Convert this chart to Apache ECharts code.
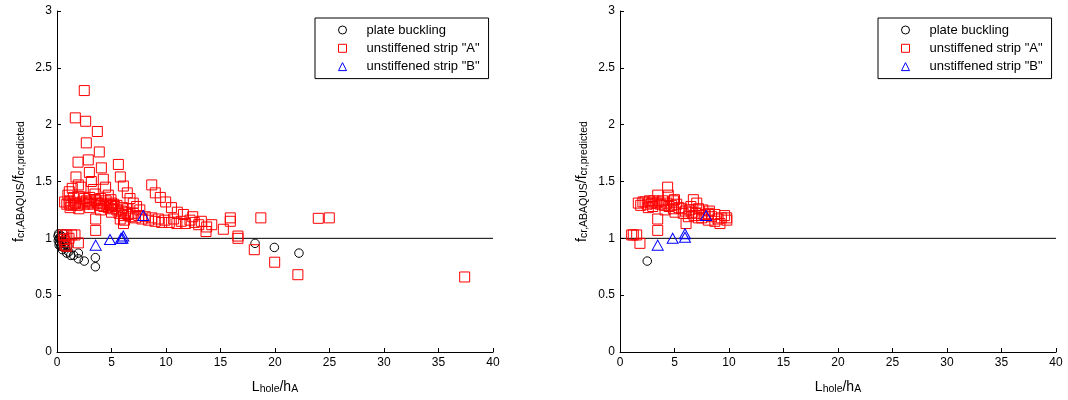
<!DOCTYPE html>
<html>
<head>
<meta charset="utf-8">
<script src="https://cdn.jsdelivr.net/npm/echarts@6/dist/echarts.min.js"></script>
<style>html,body{margin:0;padding:0;background:#fff;}#c{width:1068px;height:400px;}</style>
</head>
<body>
<div id="c"></div>
<script>
// ---- data ----
var xTicks = [0, 5, 10, 15, 20, 25, 30, 35, 40];
var yTicks = [0, 0.5, 1, 1.5, 2, 2.5, 3];
var seriesNames = ['plate buckling', 'unstiffened strip "A"', 'unstiffened strip "B"'];
var refLine = [[0, 1], [40, 1]];

var leftPlate = [[0.1,1.02],[0.15,1.04],[0.2,1.0],[0.12,0.98],[0.25,0.96],[0.3,1.01],[0.2,0.94],[0.35,0.93],[0.45,0.96],[0.5,0.9],[0.58,1.04],[0.6,0.92],[0.76,0.92],[0.4,1.02],[0.7,0.95],[1.0,0.93],[0.9,0.87],[1.07,0.88],[1.26,0.85],[1.53,0.85],[1.96,0.82],[1.96,0.87],[2.5,0.8],[3.52,0.83],[3.52,0.75],[18.17,0.956],[19.94,0.92],[22.2,0.87]];

var leftStripA = [[0.58,1.03],[0.9,1.03],[1.35,1.03],[1.65,1.03],[0.73,0.94],[0.64,0.99],[1.96,0.96],[0.7,0.97],[1.1,1.0],[0.89,0.93],
[3.55,1.17],[3.55,1.07],
[1.13,1.41],[1.4,1.44],[1.68,2.06],[1.93,1.67],[1.74,1.54],[1.96,1.47],[2.2,1.45],[1.19,1.33],
[2.5,2.3],[2.63,2.03],[2.69,1.84],[2.87,1.69],[2.97,1.58],[3.15,1.5],[3.33,1.43],[3.49,1.39],
[3.7,1.94],[3.88,1.76],[4.07,1.62],[4.25,1.52],[4.46,1.45],[4.71,1.38],[4.95,1.34],[5.2,1.3],
[5.63,1.65],[5.81,1.54],[6.09,1.46],[6.45,1.4],[6.7,1.35],[7.0,1.31],[7.3,1.28],[7.6,1.25],
[8.69,1.47],[9.02,1.4],[9.48,1.36],[9.97,1.32],[10.5,1.27],[11.04,1.23],[11.6,1.21],[12.45,1.19],[13.24,1.15],[13.73,1.1],[13.67,1.06],[14.2,1.12],[15.26,1.08],[15.9,1.18],[15.9,1.15],[16.6,1.02],[16.6,1.0],[18.7,1.18],[18.1,0.9],[19.97,0.79],[22.1,0.68],[23.97,1.176],[24.98,1.18],[37.4,0.66],
[0.7,1.32],[0.9,1.3],[1.1,1.31],[1.3,1.29],[1.5,1.3],[1.7,1.31],[1.9,1.29],[2.1,1.31],[2.3,1.32],[2.5,1.3],[2.7,1.33],[2.9,1.31],[3.1,1.32],[3.3,1.3],[3.5,1.33],[3.7,1.31],[3.9,1.29],[4.1,1.31],[4.3,1.28],[4.5,1.3],[4.7,1.27],[4.9,1.29],[5.1,1.26],[5.3,1.28],[5.5,1.25],[5.7,1.22],[5.9,1.24],[6.1,1.2],[6.3,1.23],[6.5,1.21],[6.8,1.19],[7.0,1.22],[7.2,1.18],[7.5,1.2],[7.8,1.17],[8.1,1.19],[8.4,1.16],[8.7,1.18],[9.0,1.15],[9.3,1.17],[9.6,1.14],[9.9,1.16],[10.3,1.14],[10.7,1.17],[11.0,1.13],[11.4,1.15],[11.8,1.13],[12.2,1.16],[12.6,1.14],[13.0,1.12],
[1.0,1.38],[1.5,1.36],[2.0,1.37],[2.5,1.35],[3.0,1.36],[3.5,1.34],[4.0,1.35],[4.5,1.33],[5.0,1.31],[5.5,1.29],[6.0,1.27],[6.5,1.26],
[1.2,1.27],[2.0,1.26],[3.0,1.27],[4.0,1.25],[5.0,1.23],[5.8,1.17],[6.1,1.13],[6.2,1.16]];

var leftStripB = [[3.55,0.94],[4.86,0.99],[5.87,1.0],[6.08,1.02],[6.0,1.0],[7.92,1.2]];

var rightPlate = [[2.5,0.8]];

var rightStripA = [[1.07,1.03],[1.22,1.03],[1.53,1.03],[1.83,0.956],[3.46,1.17],[3.46,1.07],[4.37,1.45],[4.43,1.38],[3.46,1.38],[6.73,1.34],[7.04,1.31],[6.06,1.13],
[1.68,1.31],[1.9,1.29],[2.1,1.32],[2.3,1.32],[2.5,1.3],[2.7,1.33],[2.9,1.31],[3.1,1.33],[3.3,1.31],[3.5,1.32],[3.7,1.3],[3.9,1.33],[4.1,1.29],[4.13,1.25],[4.3,1.31],[4.5,1.28],[4.74,1.29],[4.9,1.26],[5.05,1.23],[5.2,1.3],[5.4,1.27],[5.66,1.26],[5.8,1.22],[6.0,1.24],[6.27,1.19],[6.4,1.25],[6.6,1.23],[6.8,1.2],[7.0,1.22],[7.2,1.18],[7.5,1.2],[7.5,1.18],[7.8,1.21],[8.1,1.16],[8.1,1.22],[8.4,1.19],[8.7,1.15],[8.7,1.21],[9.0,1.17],[9.17,1.13],[9.3,1.18],[9.6,1.2],[9.79,1.18],[9.8,1.16],[5.0,1.34],[4.9,1.33],[3.0,1.28],[2.6,1.27],[6.5,1.28],[7.2,1.26],[7.6,1.25],[8.2,1.24]];

var rightStripB = [[3.46,0.94],[4.83,1.0],[5.96,1.01],[5.96,1.04],[7.9,1.2]];

// ---- chart ----
var FONT = 'Liberation Sans, Arial, Helvetica, sans-serif';
var chart = echarts.init(document.getElementById('c'), null, {renderer: 'canvas'});

var styles = [
  {symbol: 'circle', size: 8.5, color: '#000000'},
  {symbol: 'rect', size: 10, color: '#ff0000'},
  {symbol: 'triangle', size: [11, 10], color: '#0000ff'}
];

var nameRich = {
  n: {fontSize: 14, fontFamily: FONT, color: '#000', lineHeight: 15, verticalAlign: 'top'},
  s: {fontSize: 10.5, fontFamily: FONT, color: '#000', lineHeight: 10, padding: [10, 0, 0, 0], verticalAlign: 'bottom'}
};

function xAx(gi) {
  return {
    gridIndex: gi, type: 'value', min: 0, max: 40, interval: 5,
    name: '{n|L}{s|hole}{n|/h}{s|A}', nameLocation: 'middle', nameGap: 16,
    nameTextStyle: {rich: nameRich},
    axisLine: {show: true, onZero: false, lineStyle: {color: '#000', width: 1}},
    axisTick: {show: true, inside: true, length: 4, lineStyle: {color: '#000'}},
    axisLabel: {color: '#000', fontSize: 12, fontFamily: FONT, margin: 5, customValues: xTicks},
    splitLine: {show: false}
  };
}
function yAx(gi) {
  return {
    gridIndex: gi, type: 'value', min: 0, max: 3, interval: 0.5,
    name: '{n|f}{s|cr,ABAQUS}{n|/f}{s|cr,predicted}', nameLocation: 'middle', nameGap: 30, nameRotate: 90,
    nameTextStyle: {rich: nameRich},
    axisLine: {show: true, onZero: false, lineStyle: {color: '#000', width: 1}},
    axisTick: {show: true, inside: true, length: 4, lineStyle: {color: '#000'}},
    axisLabel: {color: '#000', fontSize: 12, fontFamily: FONT, margin: 5},
    splitLine: {show: false}
  };
}

function scatter(name, data, gi, st) {
  return {
    type: 'scatter', name: name, xAxisIndex: gi, yAxisIndex: gi, data: data,
    symbol: st.symbol, symbolSize: st.size, silent: true, animation: false,
    itemStyle: {color: 'transparent', borderColor: st.color, borderWidth: 1, opacity: 1}
  };
}
function legend(left, gi) {
  return {
    orient: 'vertical', left: left, top: 18,
    padding: [5, 9, 5, 23], itemGap: 4.3, itemWidth: 8, itemHeight: 8,
    borderColor: '#000', borderWidth: 1, backgroundColor: '#fff',
    textStyle: {fontSize: 13, fontFamily: FONT, color: '#000', lineHeight: 14, padding: [0, 0, 0, 15]},
    selectedMode: false,
    data: seriesNames.map(function (n, i) {
      return {name: n, icon: styles[i].symbol,
        itemStyle: {color: 'transparent', borderColor: styles[i].color, borderWidth: 1}};
    })
  };
}

var option = {
  backgroundColor: '#fff',
  animation: false,
  grid: [
    {left: 57, right: 575, top: 11, bottom: 48, containLabel: false},
    {left: 620, right: 12, top: 11, bottom: 48, containLabel: false}
  ],
  xAxis: [xAx(0), xAx(1)],
  yAxis: [yAx(0), yAx(1)],
  legend: [legend(315, 0), legend(878, 1)],
  series: [
    {type: 'line', xAxisIndex: 0, yAxisIndex: 0, data: refLine, symbol: 'none', silent: true, lineStyle: {color: '#000', width: 1}, z: 1},
    {type: 'line', xAxisIndex: 1, yAxisIndex: 1, data: refLine, symbol: 'none', silent: true, lineStyle: {color: '#000', width: 1}, z: 1},
    scatter(seriesNames[0], leftPlate, 0, styles[0]),
    scatter(seriesNames[1], leftStripA, 0, styles[1]),
    scatter(seriesNames[2], leftStripB, 0, styles[2]),
    scatter(seriesNames[0], rightPlate, 1, styles[0]),
    scatter(seriesNames[1], rightStripA, 1, styles[1]),
    scatter(seriesNames[2], rightStripB, 1, styles[2])
  ]
};
chart.setOption(option);
</script>
</body>
</html>
